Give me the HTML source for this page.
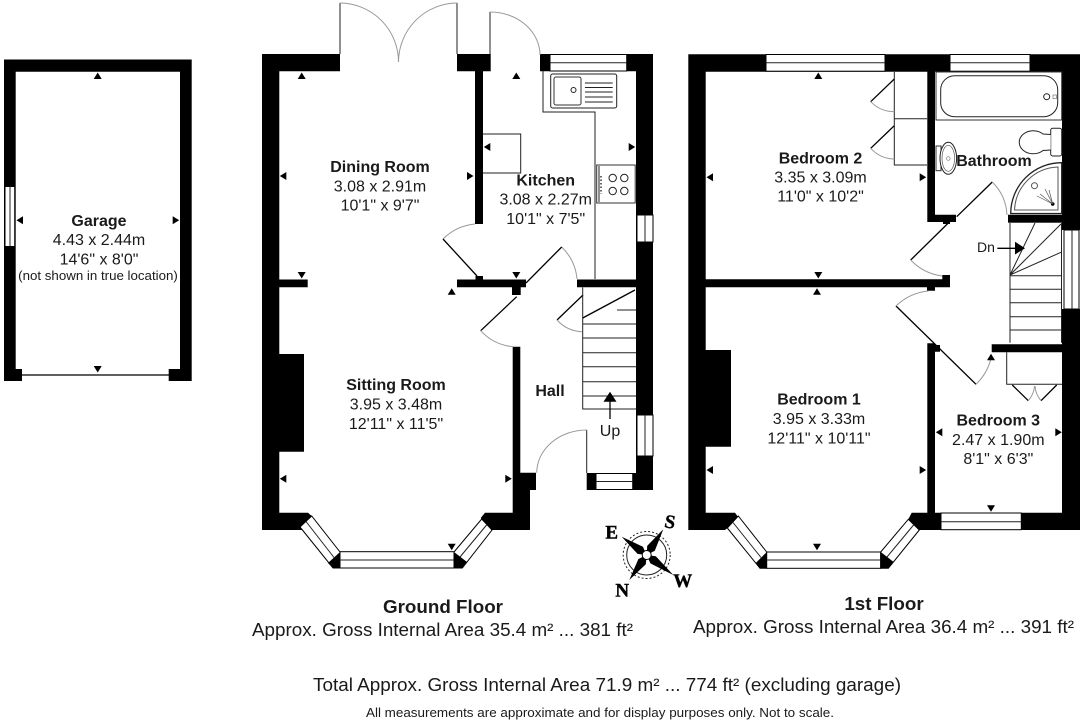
<!DOCTYPE html>
<html><head><meta charset="utf-8"><title>Floor plan</title>
<style>
html,body{margin:0;padding:0;background:#fff}
svg{display:block}
text{font-family:"Liberation Sans",Arial,sans-serif;fill:#1a1a1a;text-anchor:middle;font-size:16px}
.b{font-weight:bold}
.c{font-family:"Liberation Serif",serif;font-weight:bold;font-size:19px;fill:#000;stroke:#000;stroke-width:.4}
.w{fill:#000;stroke:none}
.win{fill:#fff;stroke:#000;stroke-width:1}
.arc{fill:none;stroke:#999;stroke-width:1}
.door{fill:none;stroke:#000;stroke-width:1.3}
.thin{fill:none;stroke:#555;stroke-width:1}
.ln{fill:none;stroke:#222;stroke-width:1}
</style></head><body>
<svg width="1088" height="720" viewBox="0 0 1088 720" xmlns="http://www.w3.org/2000/svg">
<defs><polygon id="t" points="0,-3.5 4,3 -4,3" fill="#000"/></defs>
<rect width="1088" height="720" fill="#fff"/>

<!-- GARAGE -->
<path class="w" d="M4 59.5H191.7V381H168.7V369H180V71.7H15.7V369H22V381H4Z"/>
<rect class="win" x="5" y="186.5" width="9.7" height="60"/><path class="ln" d="M10 186.5V246.5"/>
<path class="door" d="M22 375H169" stroke-width="1"/>
<use href="#t" transform="translate(97.7,76)"/>
<use href="#t" transform="translate(97.7,369) rotate(180)"/>
<use href="#t" transform="translate(20,220.3) rotate(-90)"/>
<use href="#t" transform="translate(175.7,220.3) rotate(90)"/>
<text class="b" x="99" y="226">Garage</text>
<text x="99" y="245">4.43 x 2.44m</text>
<text x="99" y="264.3">14'6" x 8'0"</text>
<text x="98" y="280" style="font-size:13.3px">(not shown in true location)</text>

<!-- GROUND FLOOR walls -->
<path class="w" d="M262 54H340V71.3H279.3V279.5H307.7V287.3H279.3V354H304V451.7H279.3V512.7H308L311.7,516L300,527L302.7,530H262Z"/>
<path class="w" d="M457 54H490.7V71.3H483V224H475V71.3H457Z"/>
<path class="w" d="M540 54H653V490H586.7V473H636V456H636V287.3H577V279.5H636V71.3H540Z"/>
<path class="w" d="M457 279.5H526V287.3H520.7V295H512V287.3H457Z"/>
<rect class="w" x="475.5" y="276" width="7.5" height="4"/>
<path class="w" d="M512.7 346.7H520.3V472.7H536V490H530V530H492L480.7,518L485,512.7H512.7Z"/>
<!-- kitchen windows -->
<rect class="win" x="550" y="54.5" width="76.7" height="16.5"/><path class="ln" d="M550 62.7H626.7"/>
<rect class="win" x="637" y="215" width="16" height="27"/><path class="ln" d="M645 215V242"/>
<rect class="win" x="637" y="415" width="16" height="41"/><path class="ln" d="M645 415V456"/>
<rect class="win" x="596" y="473.5" width="36.7" height="16"/><path class="ln" d="M596 481.5H632.7"/>
<!-- bay -->
<path class="win" d="M300 527L311.7 516L340 552V568H333Z"/><path class="ln" d="M306 521.5L334 557.5"/>
<path class="w" d="M340 552V568H333L328 563Z"/>
<rect class="win" x="340" y="551.7" width="114" height="16.3"/><path class="ln" d="M340 560H454"/>
<path class="win" d="M454 552L481.7 519L492 530L462.3 568H454Z"/><path class="ln" d="M460 557L487 524.5"/>
<path class="w" d="M454 552L466.7 561.7L462.3 568.3H454Z"/>
<!-- doors ground -->
<path class="ln" d="M340 54V3M457 54V3M490 54V12" stroke="#222"/>
<path class="arc" d="M340 3A59 59 0 0 1 398.5 62M457 3A59 59 0 0 0 398.5 62"/>
<path class="arc" d="M490 12A50 43 0 0 1 540 55"/>
<path class="arc" d="M475 224A52 52 0 0 0 443 239"/><path class="door" d="M443 239L477 276"/>
<path class="arc" d="M561.7 247A51 51 0 0 1 577 279"/><path class="door" d="M526 283L561.7 247"/>
<path class="door" d="M516.7 296.7L480.7 330.7"/><path class="arc" d="M480.7 330.7A50 50 0 0 0 513 346.7"/>
<path class="door" d="M583 295L557 320" stroke-width="1"/><path class="arc" d="M557 320A36 36 0 0 0 582 331.7"/>
<path class="ln" d="M586.7 473V430"/><path class="arc" d="M586.7 430A50 43 0 0 0 536.7 472.7"/>
<!-- kitchen fit -->
<path class="ln" d="M543 71V112H595V279" stroke="#555"/>
<rect x="550.7" y="74" width="66" height="34" rx="2" fill="#fff" stroke="#222" stroke-width="1"/>
<rect x="554" y="77" width="27" height="28" rx="2" fill="#fff" stroke="#333" stroke-width="1"/>
<circle cx="573.5" cy="90" r="2.5" fill="#fff" stroke="#222"/>
<path class="ln" stroke="#555" d="M585 83H612.7M585 87.5H612.7M585 92H612.7M585 97H612.7M585 102H612.7"/>
<rect x="596.7" y="165" width="38.5" height="38" fill="#fff" stroke="#333" stroke-width="1"/>
<path class="ln" d="M599 166V202"/>
<circle cx="612.7" cy="178" r="3.7" fill="#fff" stroke="#222"/><circle cx="624.3" cy="178" r="3.7" fill="#fff" stroke="#222"/>
<circle cx="612.7" cy="191" r="3.7" fill="#fff" stroke="#222"/><circle cx="624.3" cy="191" r="3.7" fill="#fff" stroke="#222"/>
<path d="M601 176V194" stroke="#333" stroke-width="1.5" stroke-dasharray="1.5 2" fill="none"/>
<path class="ln" stroke="#555" d="M483 134H520.7V173H483"/>
<!-- stairs ground -->
<path class="ln" d="M582.7 287.5V409H636"/>
<path class="ln" stroke="#555" d="M583 324H636M583 338H636M583 352.7H636M583 366.7H636M583 381.7H636M583 396H636M617 310H636"/>
<path class="door" d="M582.7 318L635 290" stroke-width="1.1"/>
<!-- up arrow -->
<polygon points="610,391.7 616.5,401.7 603.5,401.7" fill="#000"/><path d="M610 401V419" stroke="#000" stroke-width="1.3"/>
<!-- ground arrows -->
<use href="#t" transform="translate(301.7,76)"/>
<use href="#t" transform="translate(301.7,275) rotate(180)"/>
<use href="#t" transform="translate(283.3,176) rotate(-90)"/>
<use href="#t" transform="translate(470,176) rotate(90)"/>
<use href="#t" transform="translate(516.3,76)"/>
<use href="#t" transform="translate(516.3,275) rotate(180)"/>
<use href="#t" transform="translate(487.3,147) rotate(-90)"/>
<use href="#t" transform="translate(631.7,147) rotate(90)"/>
<use href="#t" transform="translate(451.7,291.7)"/>
<use href="#t" transform="translate(451.7,546.7) rotate(180)"/>
<use href="#t" transform="translate(283.3,478.7) rotate(-90)"/>
<use href="#t" transform="translate(508.3,478.7) rotate(90)"/>
<!-- ground labels -->
<text class="b" x="380" y="172">Dining Room</text>
<text x="380" y="191.7">3.08 x 2.91m</text>
<text x="380" y="210.3">10'1" x 9'7"</text>
<text class="b" x="545.7" y="185.3">Kitchen</text>
<text x="545.7" y="204.7">3.08 x 2.27m</text>
<text x="545.7" y="224">10'1" x 7'5"</text>
<text class="b" x="396" y="390">Sitting Room</text>
<text x="396" y="409.3">3.95 x 3.48m</text>
<text x="396" y="429">12'11" x 11'5"</text>
<text class="b" x="550" y="396">Hall</text>
<text x="610" y="436">Up</text>

<!-- FIRST FLOOR walls -->
<path class="w" d="M688.3 54.3H1080V230H1062V71.7H935V214.7H956V222H927.3V71.7H705.7V279.3H950V287.3H935V290.7H927V287.3H705.7V350H731V446.7H705.7V512.7H735L738.3,517.3L727.3,528.3L725,530H688.3Z"/>
<rect class="w" x="942.3" y="275" width="7.7" height="6"/>
<rect class="w" x="943" y="217" width="7" height="7"/>
<rect class="w" x="1008" y="214.7" width="54" height="8"/>
<path class="w" d="M1062 309H1080V530H911.7V530H919.3L908.3,519.3L911.7,512.7H927.3V343.3H935V345H940V351.7H935V512.7H1062V352.3H991.7V344.3H1062Z"/>
<rect class="win" x="766" y="54.5" width="119" height="16.7"/><path class="ln" d="M766 62.7H885"/>
<rect class="win" x="950" y="54.5" width="80" height="16.7"/><path class="ln" d="M950 62.7H1030"/>
<rect class="win" x="1064" y="230" width="15" height="79"/><path class="ln" d="M1072 230V309"/>
<rect class="win" x="941" y="513" width="80.3" height="16.7"/><path class="ln" d="M941 521.7H1021.3"/>
<!-- bay 1st -->
<path class="win" d="M727.3 528L738.3 516L766.7 552V568.3H760Z"/><path class="ln" d="M733 522.5L761 557.5"/>
<path class="w" d="M766.7 552V568.3H760L756 562.7Z"/>
<rect class="win" x="766.7" y="552" width="114" height="16.3"/><path class="ln" d="M766.7 560H880.7"/>
<path class="win" d="M880.7 552L908.3 519.3L919.3 530L888.3 568.3H880.7Z"/><path class="ln" d="M887 557L914 524.5"/>
<path class="w" d="M880.7 552L893.3 561.7L888.3 568.3H880.7Z"/>
<!-- doors 1st -->
<path class="door" d="M948.3 223L910.7 260"/><path class="arc" d="M910.7 260A53 53 0 0 0 942 276"/>
<path class="door" d="M956.7 216.7L992.3 182"/><path class="arc" d="M992.3 182A50 50 0 0 1 1007 215"/>
<path class="door" d="M896 306L976 384.3"/>
<path class="arc" d="M928.3 291A54 54 0 0 0 896 306M976 384.3A54 54 0 0 0 991.7 355"/>
<!-- wardrobes -->
<path class="ln" d="M894.3 72V165H927M894.3 118.7H927"/>
<path class="door" d="M894.3 79L870.7 101.7M894.3 125.7L870.7 148.3" stroke-width="1"/>
<path class="arc" d="M870.7 101.7A33 33 0 0 0 894.3 111.7M870.7 148.3A33 33 0 0 0 894.3 159"/>
<path class="ln" d="M1006.7 352.3V384.3H1062"/>
<path class="door" d="M1012.3 385L1028.3 400.7M1056.7 385L1041 400.7" stroke-width="1"/>
<path class="arc" d="M1028.3 400.7Q1034 394 1034.5 386M1041 400.7Q1035.5 394 1035 386"/>
<!-- bathroom -->
<rect x="936" y="72" width="125.7" height="48" fill="#fff" stroke="#333"/>
<rect x="940.7" y="75.7" width="117" height="41" rx="14" fill="#fff" stroke="#222"/>
<circle cx="1046.7" cy="96.7" r="3" fill="#fff" stroke="#222"/><rect x="1053" y="95" width="3.5" height="3.5" fill="#fff" stroke="#777" stroke-width=".7"/>
<rect x="1050.7" y="128.3" width="11" height="27.7" rx="2" fill="#fff" stroke="#222"/>
<path d="M1050.7 134.5L1043 134A14 11.5 0 1 0 1043 150.5L1050.7 150" fill="#fff" stroke="#222"/>
<rect x="936" y="146" width="5" height="24.7" fill="#fff" stroke="#333"/>
<ellipse cx="948.3" cy="158.3" rx="8.3" ry="16" fill="#fff" stroke="#222"/>
<ellipse cx="948.3" cy="158.3" rx="6.3" ry="13" fill="#fff" stroke="#555" stroke-width=".7"/>
<circle cx="948.3" cy="158.5" r="1.8" fill="#fff" stroke="#777" stroke-width=".7"/>
<path d="M1061.7 162.7A51 51 0 0 0 1010.7 213.5H1061.7Z" fill="#fff" stroke="#222" stroke-width="1.3"/>
<path d="M1058 167A45 45 0 0 0 1014.5 210H1058Z" fill="#fff" stroke="#555" stroke-width="1"/>
<circle cx="1034.5" cy="185.7" r="3" fill="#fff" stroke="#555"/>
<circle cx="1052.7" cy="204" r="1.8" fill="#000"/>
<path d="M1052.7 204L1037 196M1052.7 204L1040 194M1052.7 204L1045 189M1052.7 204L1049 190" stroke="#555" stroke-width=".7" fill="none"/>
<!-- stairs 1st -->
<path class="ln" d="M1010 223V342.7M1061.5 223V342.7"/>
<path class="ln" stroke="#444" d="M1010 275.7H1061M1010 289.3H1061M1010 302.7H1061M1010 316.7H1061M1010 330H1061"/>
<path class="ln" stroke="#333" d="M1010 275L1035 223M1010 275L1061 224M1010 275L1061 252.3"/>
<!-- Dn arrow -->
<path d="M997.3 248.3H1015" stroke="#000" stroke-width="1.3"/>
<polygon points="1015,241.7 1025,248.3 1015,254.5" fill="#000"/>
<!-- arrows 1st -->
<use href="#t" transform="translate(818.3,76)"/>
<use href="#t" transform="translate(818.3,275) rotate(180)"/>
<use href="#t" transform="translate(710,177.3) rotate(-90)"/>
<use href="#t" transform="translate(922.7,177.3) rotate(90)"/>
<use href="#t" transform="translate(817,291.7)"/>
<use href="#t" transform="translate(817,546.7) rotate(180)"/>
<use href="#t" transform="translate(710,470) rotate(-90)"/>
<use href="#t" transform="translate(922.7,470) rotate(90)"/>
<use href="#t" transform="translate(991,357.3)"/>
<use href="#t" transform="translate(991,508.3) rotate(180)"/>
<use href="#t" transform="translate(939.3,432.3) rotate(-90)"/>
<use href="#t" transform="translate(1058.3,432.3) rotate(90)"/>
<!-- labels 1st -->
<text class="b" x="820.5" y="163.3">Bedroom 2</text>
<text x="820.5" y="182.7">3.35 x 3.09m</text>
<text x="820.5" y="201.3">11'0" x 10'2"</text>
<text class="b" x="994" y="166">Bathroom</text>
<text x="986" y="252" style="font-size:14px">Dn</text>
<text class="b" x="819" y="404.7">Bedroom 1</text>
<text x="819" y="424">3.95 x 3.33m</text>
<text x="819" y="443.3">12'11" x 10'11"</text>
<text class="b" x="998.3" y="425.3">Bedroom 3</text>
<text x="998.3" y="445">2.47 x 1.90m</text>
<text x="998.3" y="464">8'1" x 6'3"</text>

<!-- compass -->
<circle cx="646.7" cy="555" r="23.5" fill="none" stroke="#222" stroke-dasharray="2 2"/>
<circle cx="646.7" cy="555" r="20" fill="none" stroke="#222"/>
<polygon fill="#000" points="621.7,536.7 642.9,546.7 646.7,555 637.5,553.9"/>
<polygon fill="#000" points="663.3,529.3 654.8,550.7 646.7,555 647.2,545.9"/>
<polygon fill="#000" points="673.3,575 650.4,563.4 646.7,555 655.8,556.2"/>
<polygon fill="#000" points="629.3,580 638.4,559 646.7,555 645.8,564.2"/>
<circle cx="646.7" cy="555" r="4.5" fill="#fff" stroke="#000"/>
<text class="c" x="611.7" y="538.5">E</text>
<text class="c" x="670" y="528" transform="rotate(10 670 522)">S</text>
<text class="c" x="682.7" y="587">W</text>
<text class="c" x="622.3" y="596.5">N</text>

<!-- footer -->
<text class="b" x="443" y="613" style="font-size:18.8px">Ground Floor</text>
<text x="442.5" y="636" style="font-size:18px" textLength="381" lengthAdjust="spacingAndGlyphs">Approx. Gross Internal Area 35.4 m² ... 381 ft²</text>
<text class="b" x="884" y="610" style="font-size:18.8px">1st Floor</text>
<text x="883.5" y="633" style="font-size:18px" textLength="381" lengthAdjust="spacingAndGlyphs">Approx. Gross Internal Area 36.4 m² ... 391 ft²</text>
<text x="607" y="691" style="font-size:18px" textLength="588" lengthAdjust="spacingAndGlyphs">Total Approx. Gross Internal Area 71.9 m² ... 774 ft² (excluding garage)</text>
<text x="600" y="717" style="font-size:13px" textLength="468" lengthAdjust="spacingAndGlyphs">All measurements are approximate and for display purposes only. Not to scale.</text>
</svg>
</body></html>
